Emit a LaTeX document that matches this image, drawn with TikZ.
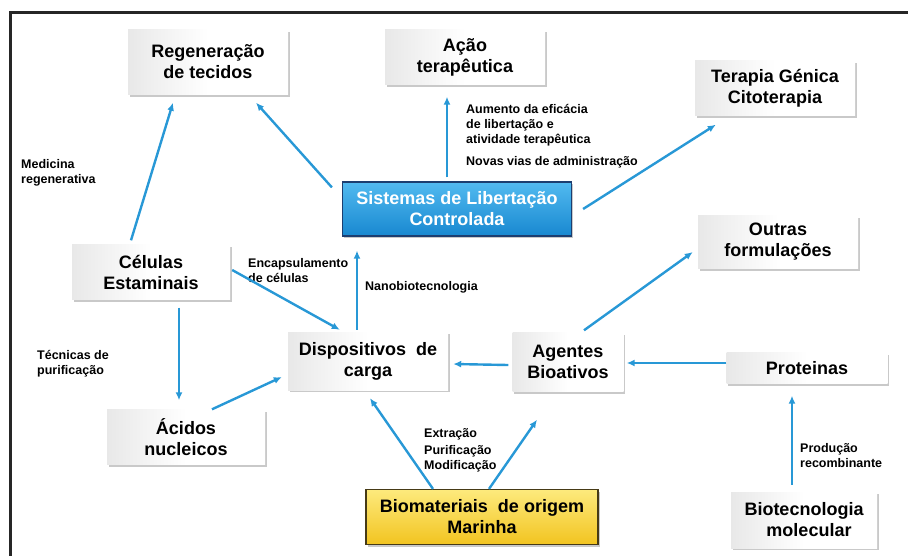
\documentclass[tikz,border=0pt]{standalone}
\usepackage{fontspec}
\setmainfont{Liberation Sans}
\usetikzlibrary{arrows.meta,shadows}

\definecolor{arrowblue}{RGB}{40,152,214}
\definecolor{blueedge}{RGB}{28,62,112}
\definecolor{bluetop}{RGB}{82,186,240}
\definecolor{bluebot}{RGB}{24,136,208}
\definecolor{yellowtop}{RGB}{253,234,125}
\definecolor{yellowbot}{RGB}{242,196,32}
\definecolor{yellowedge}{RGB}{70,58,22}

\begin{document}
\begin{tikzpicture}[x=1pt,y=-1pt]

		\tikzset{box/.style={shape=rectangle,align=center,inner sep=2pt,minimum width=160pt,minimum height=55pt,
				left color=black!9,right color=white,middle color=white,
				drop shadow={shadow xshift=1.5pt,shadow yshift=-2pt,opacity=0.3,fill=black!70},
				font=\fontsize{18}{21}\selectfont\bfseries}}
		\tikzset{bluebox/.style={box,draw=blueedge,line width=1.2pt,top color=bluetop,bottom color=bluebot,
				text=white,minimum width=229pt,minimum height=54pt}}
		\tikzset{yellowbox/.style={box,draw=yellowedge,line width=1.2pt,top color=yellowtop,bottom color=yellowbot,
				minimum width=232pt,minimum height=55pt}}
		\tikzset{arrow/.style={draw=arrowblue,line width=2.4pt,-{Latex[length=8pt,width=7pt]}}}
		\tikzset{note/.style={anchor=north west,inner sep=0pt,align=left,font=\fontsize{12.5}{15}\selectfont\bfseries}}

		\useasboundingbox (0,0) rectangle (908,555);
		\draw[line width=3pt,black!85] (10.5,560) -- (10.5,12) -- (912,12);

		% Boxes.
		\node[box,minimum height=65pt] (reg) at (208,62) {Regeneração\\de tecidos};
		\node[box] (acao) at (465,57) {Ação\\terapêutica};
		\node[box] (ter) at (775,88) {Terapia Génica\\Citoterapia};
		\node[bluebox] (sist) at (457,209) {Sistemas de Libertação\\Controlada};
		\node[box,minimum height=53pt] (outras) at (778,242) {Outras\\formulações};
		\node[box,minimum width=158pt] (cel) at (151,272) {Células\\Estaminais};
		\node[box,minimum height=58pt] (disp) at (368,361) {Dispositivos\ \ de\\carga};
		\node[box,minimum width=111pt,minimum height=59pt] (agent) at (568,362) {Agentes\\Bioativos};
		\node[box,minimum width=161pt,minimum height=31pt] (prot) at (807,368) {Proteinas};
		\node[box,minimum width=158pt] (acid) at (186,437) {Ácidos\\nucleicos};
		\node[yellowbox] (bio) at (482,517) {Biomateriais\ \ de origem\\Marinha};
		\node[box,minimum width=146pt,minimum height=56pt] (biot) at (804,520) {Biotecnologia\\\ \ molecular};

		% Labels.
		\node[note] (medreg) at (21,159) {Medicina\\regenerativa};
		\node[note] (aumento) at (466,104) {Aumento\ da eficácia\\de libertação e\\atividade terapêutica};
		\node[note] (novas) at (466,156) {Novas vias de administração};
		\node[note] (encap) at (248,258) {Encapsulamento\\de células};
		\node[note] (nano) at (365,281) {Nanobiotecnologia};
		\node[note] (tecn) at (37,350) {Técnicas de\\purificação};
		\node[note] (extr) at (424,428) {Extração\\[2pt]Purificação\\Modificação};
		\node[note] (prod) at (800,443) {Produção\\recombinante};

		% Arrows.
		\draw[arrow] ([xshift=-20pt,yshift=4pt]cel.north) -- ([xshift=-35pt,yshift=-8pt]reg.south);
		\draw[arrow] ([xshift=-10pt,yshift=-6pt]sist.north west) -- ([xshift=48pt,yshift=-8pt]reg.south);
		\draw[arrow] ([xshift=-10pt,yshift=4pt]sist.north) -- ([xshift=-18pt,yshift=-12pt]acao.south);
		\draw[arrow] ([xshift=11pt]sist.east) -- ([xshift=21pt,yshift=-9pt]ter.south west);
		\draw[arrow] ([xshift=16pt,yshift=2pt]agent.north) -- ([xshift=-5pt,yshift=-10pt]outras.west);
		\draw[arrow] ([xshift=-11pt,yshift=2pt]disp.north) -- ([xshift=-100pt,yshift=-14pt]sist.south);
		\draw[arrow] ([xshift=2pt,yshift=2pt]cel.east) -- ([xshift=52pt,yshift=2pt]disp.north west);
		\draw[arrow] ([xshift=28pt,yshift=-8pt]cel.south) -- ([xshift=-7pt,yshift=9pt]acid.north);
		\draw[arrow] ([xshift=26pt]acid.north) -- ([xshift=-6pt,yshift=-16pt]disp.west);
		\draw[arrow] ([xshift=-4pt,yshift=-3pt]agent.west) -- ([xshift=5pt,yshift=-3pt]disp.east);
		\draw[arrow] ([yshift=5pt]prot.west) -- ([xshift=3pt,yshift=-1pt]agent.east);
		\draw[arrow] ([xshift=-12pt,yshift=7pt]biot.north) -- ([xshift=-15pt,yshift=-12pt]prot.south);
		\draw[arrow] ([xshift=-49pt]bio.north) -- ([xshift=2pt,yshift=-8pt]disp.south);
		\draw[arrow] ([xshift=7pt]bio.north) -- ([xshift=-31pt,yshift=-28pt]agent.south);

	\end{tikzpicture}
\end{document}
